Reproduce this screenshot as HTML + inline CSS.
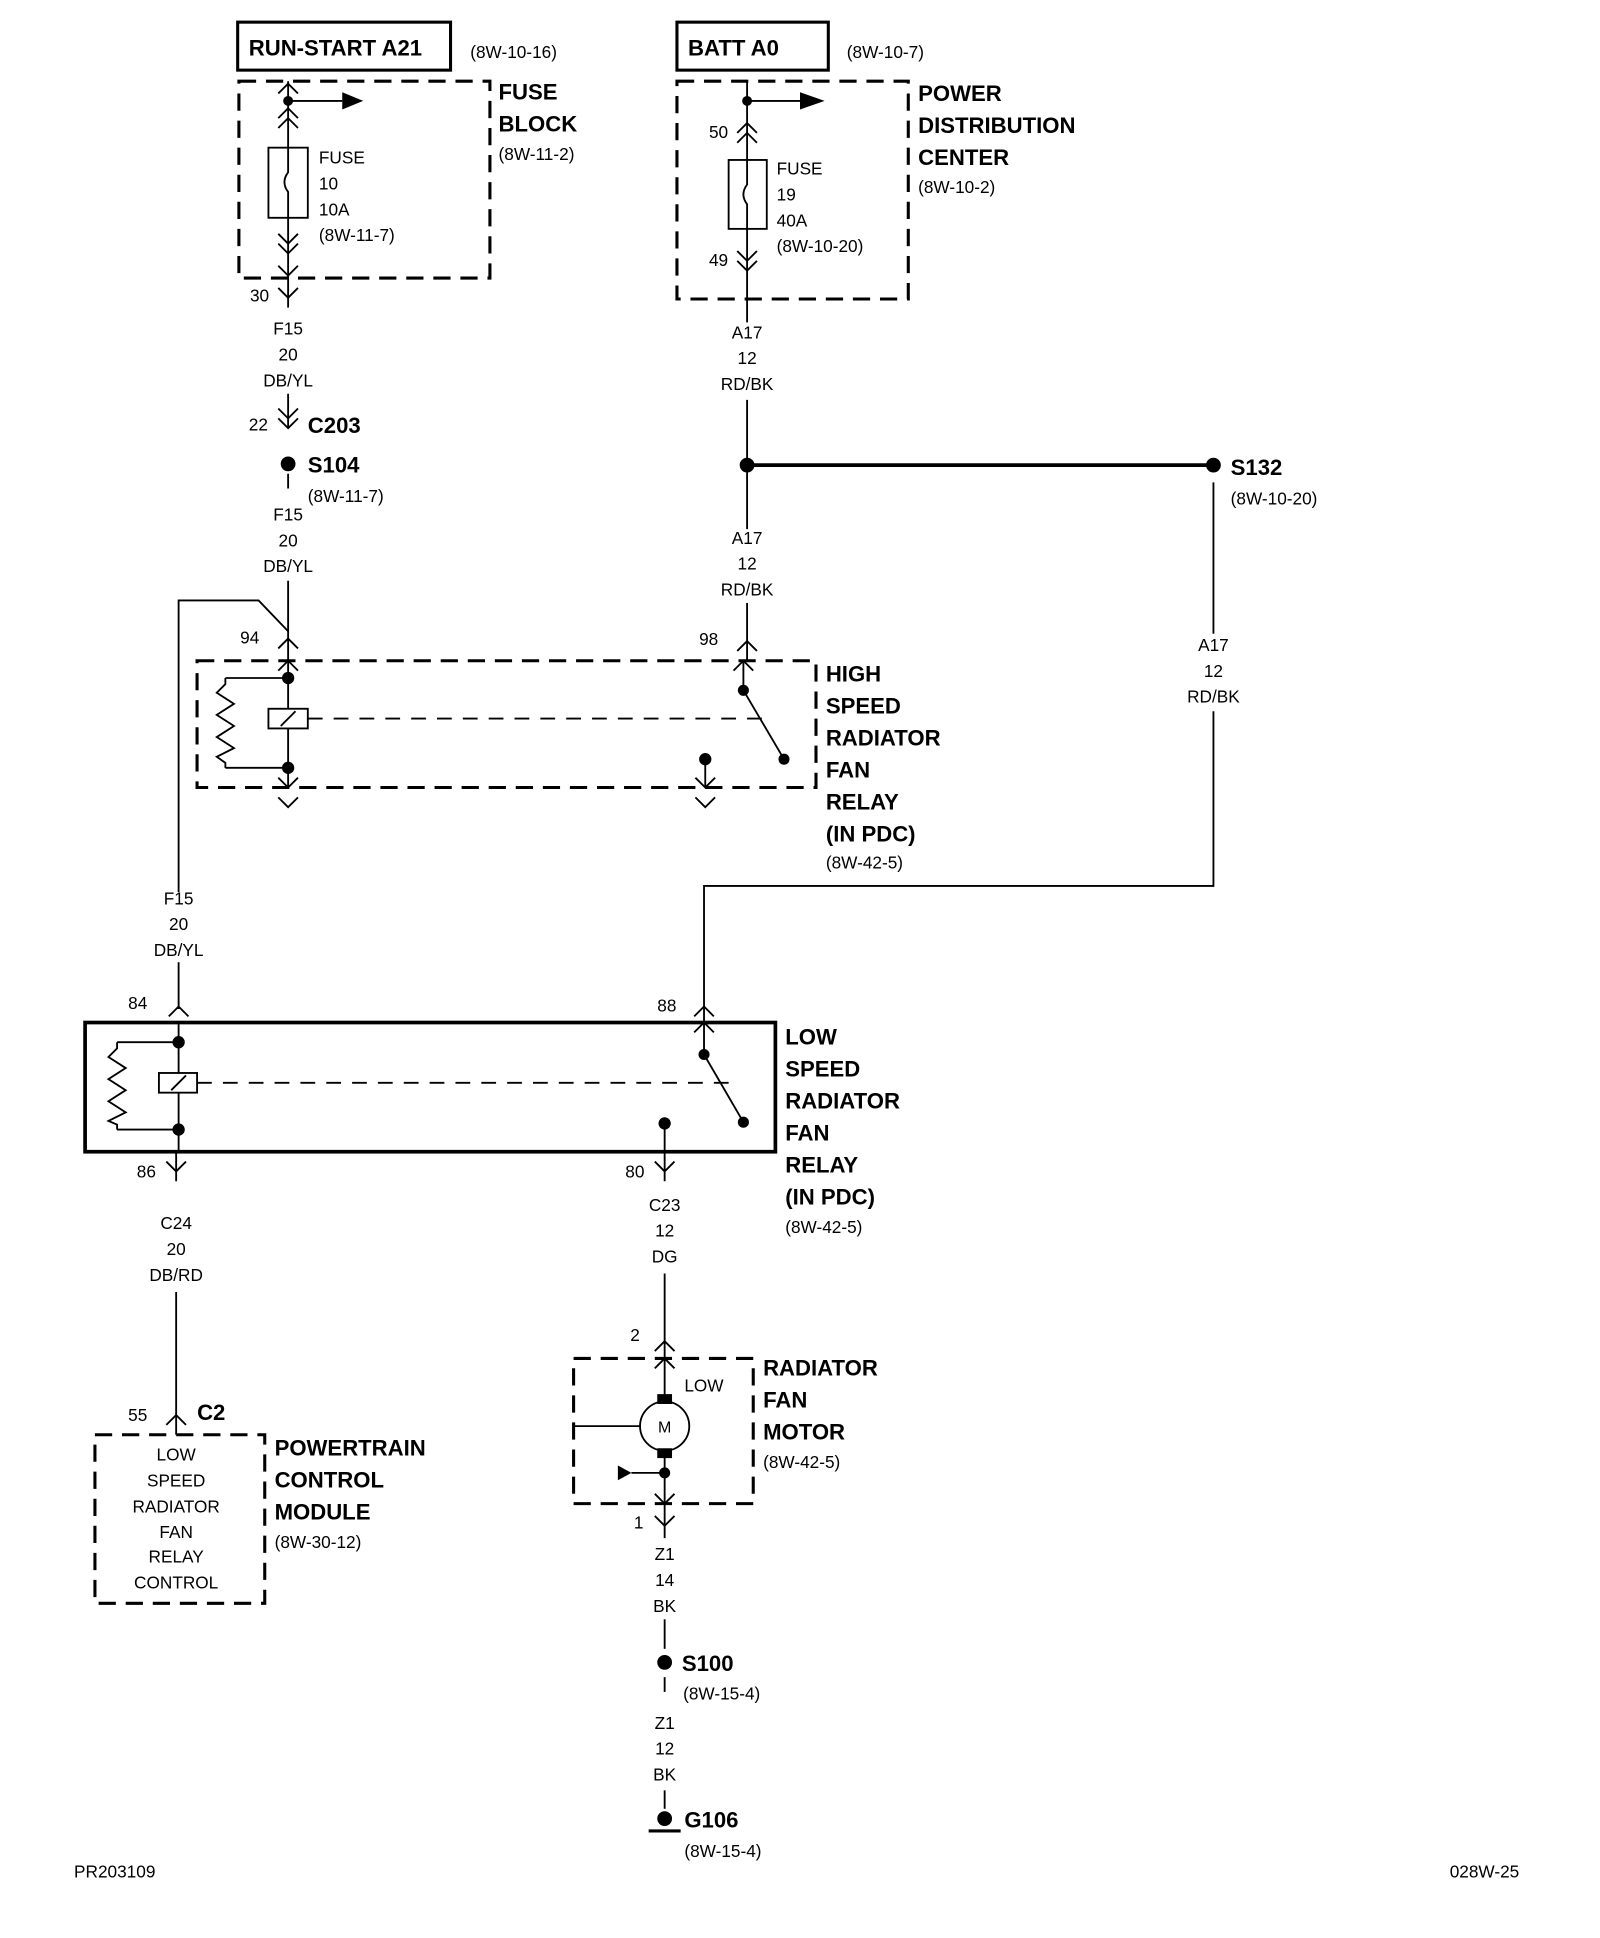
<!DOCTYPE html>
<html><head><meta charset="utf-8"><style>
html,body{margin:0;padding:0;background:#fff}
svg{display:block}
text{font-family:"Liberation Sans",sans-serif;fill:#000}
.n{font-size:14px}
.b{font-size:18px;font-weight:bold}
.c{text-anchor:middle}
</style></head><body>
<svg width="1600" height="1938" viewBox="0 0 1300 1575" xmlns="http://www.w3.org/2000/svg">
<g fill="none" stroke="#000" stroke-width="1.5">
<rect x="193" y="18" width="173" height="39" stroke-width="2.5"/>
<rect x="550" y="18" width="123" height="39" stroke-width="2.5"/>
<g stroke-dasharray="14,8" stroke-width="2.5">
<rect x="194" y="66" width="204" height="160"/>
<rect x="550" y="66" width="188" height="177"/>
<rect x="160" y="537" width="503" height="103"/>
<rect x="77" y="1166" width="138" height="137"/>
<rect x="466" y="1104" width="146" height="118"/>
</g>
<line x1="234" y1="66" x2="234" y2="250"/>
<line x1="234" y1="82" x2="278" y2="82"/>
<rect x="218" y="120" width="32" height="57" fill="#fff"/>
<path d="M234 120 V140 Q228 148 234 156 V177"/>
<path d="M226 76 L234 68 L242 76 M226 96 L234 88 L242 96 M226 104 L234 96 L242 104 M226 190 L234 198 L242 190 M226 198 L234 206 L242 198 M226 216 L234 224 L242 216 M226 234 L234 242 L242 234"/>
<path d="M226 332 L234 340 L242 332 M226 340 L234 348 L242 340"/>
<line x1="234" y1="320" x2="234" y2="347"/>
<line x1="234" y1="385" x2="234" y2="397"/>
<line x1="234" y1="472" x2="234" y2="537"/>
<path d="M226 527 L234 519 L242 527"/>
<path d="M234 513 L210 488 L145 488 L145 725"/>
<line x1="145" y1="782" x2="145" y2="820"/>
<line x1="607" y1="66" x2="607" y2="262"/>
<line x1="607" y1="82" x2="650" y2="82"/>
<rect x="592" y="130" width="31" height="56" fill="#fff"/>
<path d="M607 130 V150 Q601 158 607 166 V186"/>
<path d="M599 108 L607 100 L615 108 M599 116 L607 108 L615 116 M599 204 L607 212 L615 204 M599 212 L607 220 L615 212"/>
<line x1="607" y1="325" x2="607" y2="430"/>
<line x1="607" y1="378" x2="986" y2="378" stroke-width="3"/>
<line x1="607" y1="490" x2="607" y2="537"/>
<path d="M599 529 L607 521 L615 529"/>
<line x1="986" y1="392" x2="986" y2="515"/>
<path d="M986 578 L986 720 L572 720 L572 831"/>
<path d="M226 545 L234 537 L242 545"/>
<path d="M234 537 V640 M183 551 H234 M183 624 H234 M183 551 V556 L176 563 L190 572 L176 581 L190 590 L176 599 L190 608 L176 615 L183 620 V624"/>
<rect x="218" y="576" width="32" height="16" fill="#fff"/>
<line x1="228" y1="590" x2="240" y2="578"/>
<line x1="250" y1="584" x2="625" y2="584" stroke-dasharray="12,9"/>
<path d="M226 632 L234 640 L242 632 M226 648 L234 656 L242 648"/>
<path d="M596 545 L604 537 L612 545"/>
<path d="M604 537 V561 L637 617"/>
<path d="M573 617 V640 M565 632 L573 640 L581 632 M565 648 L573 656 L581 648"/>
<rect x="69" y="831" width="561" height="105" stroke-width="3"/>
<path d="M137 826 L145 818 L153 826 M564 826 L572 818 L580 826"/>
<path d="M145 831 V936 M95 847 H145 M95 918 H145 M95 847 V852 L88 859 L102 868 L88 877 L102 886 L88 895 L102 904 L88 911 L95 914 V918"/>
<rect x="129" y="872" width="31" height="16" fill="#fff"/>
<line x1="139" y1="886" x2="151" y2="874"/>
<line x1="160" y1="880" x2="598" y2="880" stroke-dasharray="12,9"/>
<path d="M572 831 V857 L604 912"/>
<path d="M564 839 L572 831 L580 839"/>
<path d="M540 913 V960 M143 936 V960"/>
<path d="M135 944 L143 952 L151 944 M532 944 L540 952 L548 944"/>
<line x1="143" y1="1050" x2="143" y2="1166"/>
<path d="M135 1158 L143 1150 L151 1158"/>
<line x1="540" y1="1035" x2="540" y2="1250"/>
<path d="M532 1098 L540 1090 L548 1098 M532 1112 L540 1104 L548 1112"/>
<circle cx="540" cy="1159" r="20" fill="#fff"/>
<line x1="466" y1="1159" x2="520" y2="1159"/>
<line x1="513" y1="1197" x2="540" y2="1197"/>
<path d="M532 1214 L540 1222 L548 1214 M532 1232 L540 1240 L548 1232"/>
<line x1="540" y1="1316" x2="540" y2="1340"/>
<line x1="540" y1="1363" x2="540" y2="1375"/>
<line x1="540" y1="1455" x2="540" y2="1470"/>
<line x1="527" y1="1488" x2="553" y2="1488" stroke-width="2.5"/>
</g>
<g fill="#000">
<circle cx="234" cy="82" r="4"/><polygon points="278,75 295,82 278,89"/>
<circle cx="607" cy="82" r="4"/><polygon points="650,75 670,82 650,89"/>
<circle cx="234" cy="377" r="6"/>
<circle cx="607" cy="378" r="6"/><circle cx="986" cy="378" r="6"/>
<circle cx="234" cy="551" r="5"/><circle cx="234" cy="624" r="5"/>
<circle cx="604" cy="561" r="4.5"/><circle cx="637" cy="617" r="4.5"/><circle cx="573" cy="617" r="5"/>
<circle cx="145" cy="847" r="5"/><circle cx="145" cy="918" r="5"/>
<circle cx="572" cy="857" r="4.5"/><circle cx="604" cy="912" r="4.5"/><circle cx="540" cy="913" r="5"/>
<rect x="534" y="1133" width="12" height="8"/><rect x="534" y="1177" width="12" height="8"/>
<circle cx="540" cy="1197" r="4.5"/><polygon points="502,1191 513,1197 502,1203"/>
<circle cx="540" cy="1351" r="6"/><circle cx="540" cy="1478" r="6"/>
</g>
<g>
<text class="b" x="202" y="45">RUN-START A21</text>
<text class="n" x="382" y="47">(8W-10-16)</text>
<text class="b" x="559" y="45">BATT A0</text>
<text class="n" x="688" y="47">(8W-10-7)</text>
<text class="n" x="259" y="133">FUSE</text><text class="n" x="259" y="154">10</text><text class="n" x="259" y="175">10A</text><text class="n" x="259" y="196">(8W-11-7)</text>
<text class="b" x="405" y="81">FUSE</text><text class="b" x="405" y="107">BLOCK</text><text class="n" x="405" y="130">(8W-11-2)</text>
<text class="n" x="203" y="245">30</text>
<text class="n c" x="234" y="272">F15</text><text class="n c" x="234" y="293">20</text><text class="n c" x="234" y="314">DB/YL</text>
<text class="n" x="202" y="350">22</text><text class="b" x="250" y="352">C203</text>
<text class="b" x="250" y="384">S104</text><text class="n" x="250" y="408">(8W-11-7)</text>
<text class="n c" x="234" y="423">F15</text><text class="n c" x="234" y="444">20</text><text class="n c" x="234" y="465">DB/YL</text>
<text class="n" x="195" y="523">94</text><text class="n" x="568" y="524">98</text>
<text class="n" x="576" y="112">50</text><text class="n" x="576" y="216">49</text>
<text class="n" x="631" y="142">FUSE</text><text class="n" x="631" y="163">19</text><text class="n" x="631" y="184">40A</text><text class="n" x="631" y="205">(8W-10-20)</text>
<text class="b" x="746" y="82">POWER</text><text class="b" x="746" y="108">DISTRIBUTION</text><text class="b" x="746" y="134">CENTER</text><text class="n" x="746" y="157">(8W-10-2)</text>
<text class="n c" x="607" y="275">A17</text><text class="n c" x="607" y="296">12</text><text class="n c" x="607" y="317">RD/BK</text>
<text class="b" x="1000" y="386">S132</text><text class="n" x="1000" y="410">(8W-10-20)</text>
<text class="n c" x="607" y="442">A17</text><text class="n c" x="607" y="463">12</text><text class="n c" x="607" y="484">RD/BK</text>
<text class="n c" x="986" y="529">A17</text><text class="n c" x="986" y="550">12</text><text class="n c" x="986" y="571">RD/BK</text>
<text class="b" x="671" y="554">HIGH</text><text class="b" x="671" y="580">SPEED</text><text class="b" x="671" y="606">RADIATOR</text><text class="b" x="671" y="632">FAN</text><text class="b" x="671" y="658">RELAY</text><text class="b" x="671" y="684">(IN PDC)</text><text class="n" x="671" y="706">(8W-42-5)</text>
<text class="n c" x="145" y="735">F15</text><text class="n c" x="145" y="756">20</text><text class="n c" x="145" y="777">DB/YL</text>
<text class="n" x="104" y="820">84</text><text class="n" x="534" y="822">88</text>
<text class="b" x="638" y="849">LOW</text><text class="b" x="638" y="875">SPEED</text><text class="b" x="638" y="901">RADIATOR</text><text class="b" x="638" y="927">FAN</text><text class="b" x="638" y="953">RELAY</text><text class="b" x="638" y="979">(IN PDC)</text><text class="n" x="638" y="1002">(8W-42-5)</text>
<text class="n" x="111" y="957">86</text><text class="n" x="508" y="957">80</text>
<text class="n c" x="143" y="999">C24</text><text class="n c" x="143" y="1020">20</text><text class="n c" x="143" y="1041">DB/RD</text>
<text class="n c" x="540" y="984">C23</text><text class="n c" x="540" y="1005">12</text><text class="n c" x="540" y="1026">DG</text>
<text class="n" x="104" y="1155">55</text><text class="b" x="160" y="1154">C2</text>
<text class="n c" x="143" y="1187">LOW</text><text class="n c" x="143" y="1208">SPEED</text><text class="n c" x="143" y="1229">RADIATOR</text><text class="n c" x="143" y="1250">FAN</text><text class="n c" x="143" y="1270">RELAY</text><text class="n c" x="143" y="1291">CONTROL</text>
<text class="b" x="223" y="1183">POWERTRAIN</text><text class="b" x="223" y="1209">CONTROL</text><text class="b" x="223" y="1235">MODULE</text><text class="n" x="223" y="1258">(8W-30-12)</text>
<text class="n" x="512" y="1090">2</text>
<text class="n" x="556" y="1131">LOW</text>
<text class="n c" x="540" y="1164" style="font-size:13px">M</text>
<text class="b" x="620" y="1118">RADIATOR</text><text class="b" x="620" y="1144">FAN</text><text class="b" x="620" y="1170">MOTOR</text><text class="n" x="620" y="1193">(8W-42-5)</text>
<text class="n" x="515" y="1242">1</text>
<text class="n c" x="540" y="1268">Z1</text><text class="n c" x="540" y="1289">14</text><text class="n c" x="540" y="1310">BK</text>
<text class="b" x="554" y="1358">S100</text><text class="n" x="555" y="1381">(8W-15-4)</text>
<text class="n c" x="540" y="1405">Z1</text><text class="n c" x="540" y="1426">12</text><text class="n c" x="540" y="1447">BK</text>
<text class="b" x="556" y="1485">G106</text><text class="n" x="556" y="1509">(8W-15-4)</text>
<text class="n" x="60" y="1526">PR203109</text>
<text class="n" x="1178" y="1526">028W-25</text>
</g>
</svg>
</body></html>
